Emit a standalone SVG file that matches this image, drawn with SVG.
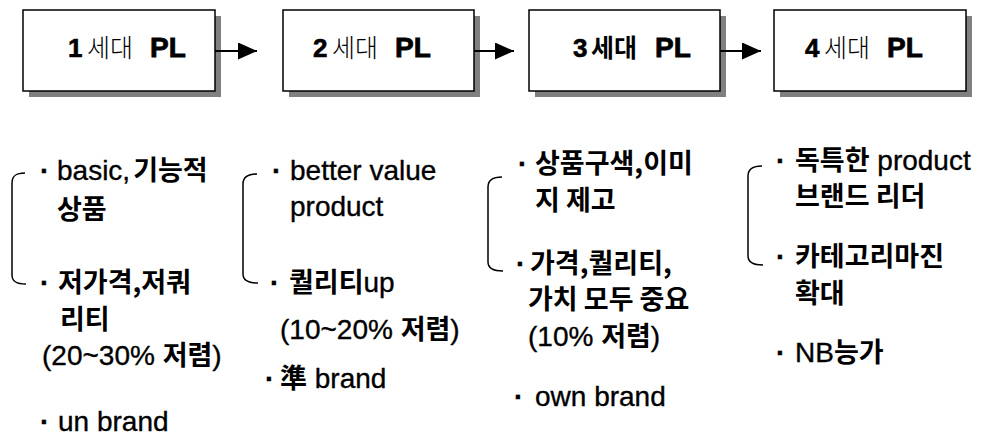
<svg xmlns="http://www.w3.org/2000/svg" width="983" height="439" viewBox="0 0 983 439">
  <defs>
    <style>
      .box { fill: #ffffff; stroke: #000000; stroke-width: 1.5; }
      .shadow { fill: #808080; }
      .title { font-family: 'Liberation Sans', 'Noto Sans CJK KR', sans-serif; fill: #000; }
      .num { font-weight: bold; font-size: 26px; stroke: #000; stroke-width: 0.6; }
      .pl { font-weight: bold; font-size: 28px; stroke: #000; stroke-width: 0.8; }
      .thin { font-family: 'Noto Sans CJK KR', sans-serif; font-weight: 300; font-size: 25px; }
      .heavy { font-family: 'Noto Sans CJK KR', sans-serif; font-weight: 700; font-size: 25px; }
      .note { font-family: 'Liberation Sans', 'Noto Sans CJK KR', sans-serif; font-size: 28px; fill: #000; stroke: #000; stroke-width: 0.35; }
      .k { font-family: 'Noto Sans CJK KR', sans-serif; font-weight: 700; font-size: 27px; stroke-width: 0; }
      .dot { font-weight: bold; }
      .link { stroke: #000; stroke-width: 2; fill: none; }
      .brace { stroke: #000; stroke-width: 1.5; fill: none; }
    </style>
    <marker id="arrow" markerWidth="19" markerHeight="17" refX="19" refY="8.5" orient="auto" markerUnits="userSpaceOnUse">
      <path d="M0,0 L19,8.5 L0,17 Z" fill="#000"/>
    </marker>
  </defs>

  <!-- generation boxes -->
  <g id="gen1">
    <rect class="shadow" x="29" y="16" width="192" height="81"/>
    <rect class="box" x="23" y="10" width="192" height="81"/>
    <text class="title" y="57"><tspan class="num" x="68">1</tspan><tspan class="thin" x="87">세대</tspan><tspan class="pl" x="150">PL</tspan></text>
  </g>
  <g id="gen2">
    <rect class="shadow" x="289" y="16" width="191" height="81"/>
    <rect class="box" x="283" y="10" width="191" height="81"/>
    <text class="title" y="57"><tspan class="num" x="313">2</tspan><tspan class="thin" x="332">세대</tspan><tspan class="pl" x="395">PL</tspan></text>
  </g>
  <g id="gen3">
    <rect class="shadow" x="535" y="16" width="191" height="81"/>
    <rect class="box" x="529" y="10" width="191" height="81"/>
    <text class="title" y="57"><tspan class="num" x="573">3</tspan><tspan class="heavy" x="591">세대</tspan><tspan class="pl" x="655">PL</tspan></text>
  </g>
  <g id="gen4">
    <rect class="shadow" x="780" y="16" width="192" height="81"/>
    <rect class="box" x="774" y="10" width="192" height="81"/>
    <text class="title" y="57"><tspan class="num" x="805">4</tspan><tspan class="thin" x="824">세대</tspan><tspan class="pl" x="887">PL</tspan></text>
  </g>

  <!-- arrows between generations -->
  <g id="connectors">
    <line class="link" x1="215" y1="51" x2="257" y2="51" marker-end="url(#arrow)"/>
    <line class="link" x1="474" y1="51" x2="514" y2="51" marker-end="url(#arrow)"/>
    <line class="link" x1="720" y1="51" x2="761" y2="51" marker-end="url(#arrow)"/>
  </g>

  <!-- generation 1 notes -->
  <g id="notes1">
    <path class="brace" d="M25,173 C17,173 12,175 12,183 V275 C12,282 17,284 26,284"/>
    <text class="note">
      <tspan class="dot" x="40" y="180">·</tspan>
      <tspan x="57" y="180">basic,<tspan class="k" dx="3">기능적</tspan></tspan>
      <tspan class="k" x="57" y="219">상품</tspan>
      <tspan class="dot" x="40" y="292">·</tspan>
      <tspan class="k" x="58" y="292">저가격,저쿼</tspan>
      <tspan class="k" x="60" y="329">리티</tspan>
      <tspan x="42" y="365">(20~30% <tspan class="k">저렴</tspan>)</tspan>
      <tspan class="dot" x="40" y="431">·</tspan>
      <tspan x="58" y="431">un brand</tspan>
    </text>
  </g>

  <!-- generation 2 notes -->
  <g id="notes2">
    <path class="brace" d="M257,174 C249,174 243,176 243,184 V274 C243,281 249,283 258,283"/>
    <text class="note">
      <tspan class="dot" x="272" y="180">·</tspan>
      <tspan x="290" y="180">better value</tspan>
      <tspan x="290" y="216">product</tspan>
      <tspan class="dot" x="270" y="292">·</tspan>
      <tspan x="289" y="292"><tspan class="k">퀄리티</tspan>up</tspan>
      <tspan x="280" y="339">(10~20% <tspan class="k">저렴</tspan>)</tspan>
      <tspan class="dot" x="265" y="388">·</tspan>
      <tspan x="280" y="388"><tspan class="k">準</tspan> brand</tspan>
    </text>
  </g>

  <!-- generation 3 notes -->
  <g id="notes3">
    <path class="brace" d="M502,177 C494,177 488,179 488,187 V262 C488,269 494,271 503,271"/>
    <text class="note">
      <tspan class="dot" x="518" y="173">·</tspan>
      <tspan class="k" x="535" y="173">상품구색,이미</tspan>
      <tspan class="k" x="535" y="210">지 제고</tspan>
      <tspan class="dot" x="516" y="273">·</tspan>
      <tspan class="k" x="530" y="273">가격,퀄리티,</tspan>
      <tspan class="k" x="528" y="309">가치 모두 중요</tspan>
      <tspan x="528" y="346">(10% <tspan class="k">저렴</tspan>)</tspan>
      <tspan class="dot" x="514" y="406">·</tspan>
      <tspan x="535" y="406">own brand</tspan>
    </text>
  </g>

  <!-- generation 4 notes -->
  <g id="notes4">
    <path class="brace" d="M762,166 C754,166 748,168 748,176 V256 C748,263 754,265 763,265"/>
    <text class="note">
      <tspan class="dot" x="776" y="170">·</tspan>
      <tspan x="795" y="170"><tspan class="k">독특한</tspan> product</tspan>
      <tspan class="k" x="795" y="206">브랜드 리더</tspan>
      <tspan class="dot" x="776" y="266">·</tspan>
      <tspan class="k" x="795" y="266">카테고리마진</tspan>
      <tspan class="k" x="795" y="303">확대</tspan>
      <tspan class="dot" x="776" y="362">·</tspan>
      <tspan x="795" y="362">NB<tspan class="k">능가</tspan></tspan>
    </text>
  </g>
</svg>
